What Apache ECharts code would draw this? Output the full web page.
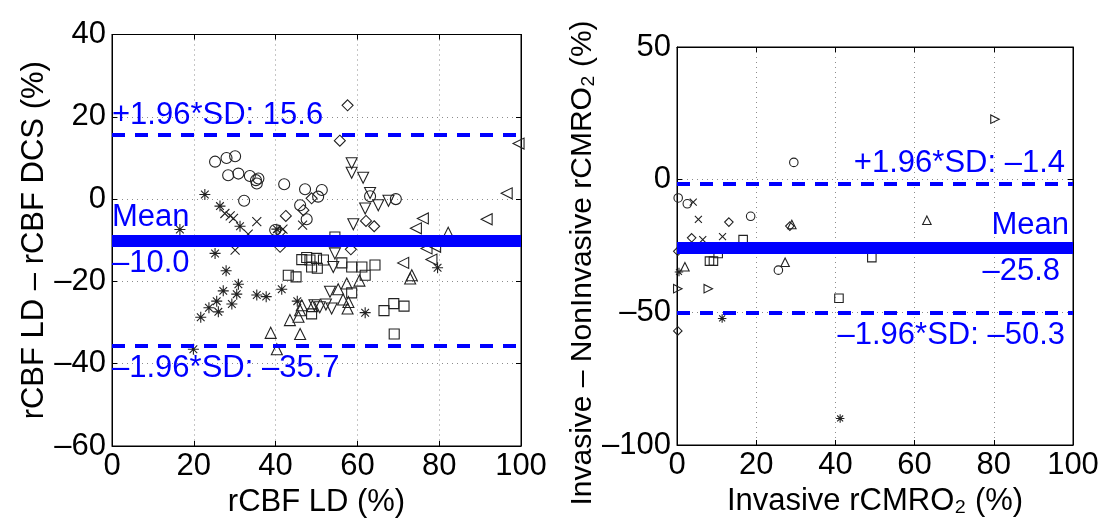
<!DOCTYPE html>
<html><head><meta charset="utf-8">
<script src="https://cdn.jsdelivr.net/npm/echarts@6/dist/echarts.min.js"></script>
<style>html,body{margin:0;padding:0;background:#fff}#c{width:1104px;height:531px}</style>
</head><body><div id="c"></div>
<script>
// ---- Left panel: rCBF LD vs (rCBF LD - rCBF DCS) ----
const leftCircle = [[25.2,9.1],[28.0,10.0],[30.1,10.4],[28.4,5.8],[30.9,6.2],[33.7,5.6],[35.2,4.6],[35.4,3.8],[35.8,5.0],[32.3,-0.4],[42.1,3.6],[47.2,2.4],[46.0,-1.5],[47.6,-4.9],[51.3,2.2],[50.4,0.6],[63.1,0.7],[69.4,0.0],[39.9,-7.5]];
const leftStar = [[22.7,1.1],[26.4,-1.7],[31.3,-6.6],[16.6,-7.4],[25.2,-13.2],[27.9,-17.4],[30.9,-20.7],[27.2,-22.3],[30.5,-23.1],[25.6,-24.8],[23.7,-26.4],[26.0,-27.4],[29.3,-25.5],[21.7,-28.7],[35.4,-23.3],[37.7,-23.7],[41.5,-21.9],[19.9,-36.5],[45.3,-24.8],[61.9,-27.6],[79.6,-16.7],[40.3,-7.3]];
const leftCross = [[27.6,-3.5],[28.9,-4.1],[29.7,-4.7],[35.4,-5.5],[30.1,-12.4],[46.6,-6.3],[41.8,-7.3],[33.3,-8.5]];
const leftDiamond = [[57.6,22.8],[55.7,14.2],[42.5,-4.1],[46.8,-2.7],[48.8,0.2],[62.1,-5.3],[64.1,-6.6],[41.1,-11.6],[58.4,-12.2],[41.1,-8.0]];
const leftTriDown = [[58.6,8.7],[58.6,6.4],[61.4,5.2],[63.1,1.5],[65.1,-1.5],[61.9,-2.3],[67.6,-0.4],[59.0,-6.1],[54.5,-13.2],[54.1,-16.5],[53.3,-22.5],[53.7,-26.6],[49.5,-25.8],[50.8,-26.3],[52.3,-25.6]];
const leftTriLeft = [[99.4,13.5],[96.5,1.4],[91.6,-4.9],[76.0,-4.7],[74.3,-7.1],[76.9,-12.0],[79.0,-11.6],[78.1,-14.7],[71.2,-15.5]];
const leftTriUp = [[82.2,-8.2],[38.8,-32.5],[40.3,-36.5],[46.0,-32.8],[43.5,-29.4],[45.6,-28.6],[46.0,-27.0],[46.4,-25.8],[49.0,-26.0],[60.5,-19.8],[73.3,-18.5],[72.9,-19.3],[57.4,-20.5],[55.3,-21.9],[56.5,-24.4],[57.8,-25.0],[57.6,-26.6]];
const leftSquare = [[54.5,-9.2],[46.4,-14.7],[47.6,-14.2],[48.4,-14.8],[43.1,-18.5],[45.0,-18.9],[48.8,-27.9],[50.0,-14.4],[51.7,-14.8],[48.8,-16.5],[50.2,-16.8],[56.2,-15.5],[58.6,-16.5],[61.1,-16.5],[64.3,-16.0],[61.9,-18.5],[58.6,-22.8],[66.5,-27.1],[68.9,-25.4],[71.4,-26.0],[69.0,-32.8]];
const leftUpper = 15.6, leftMean = -10.0, leftLower = -35.7;

// ---- Right panel: Invasive rCMRO2 vs (Invasive - NonInvasive) ----
const rightCircle = [[29.5,6.5],[0.3,-6.9],[2.6,-9.1],[18.6,-13.8],[25.6,-34.1]];
const rightCross = [[4.1,-8.5],[5.4,-15.0],[6.5,-22.6],[11.5,-21.5]];
const rightDiamond = [[13.1,-16.0],[3.7,-21.9],[0.2,-27.0],[0.2,-57.0],[28.5,-17.5]];
const rightTriUp = [[29.0,-16.9],[2.0,-32.8],[27.3,-31.1],[63.1,-15.3]];
const rightSquare = [[16.7,-22.6],[8.2,-30.7],[9.2,-30.7],[10.4,-27.8],[40.9,-44.7],[49.2,-29.4]];
const rightStar = [[0.5,-34.8],[11.4,-52.3],[41.2,-90.0]];
const rightTriRight = [[0.2,-41.1],[7.9,-41.1],[80.3,22.8]];
const rightUpper = -1.4, rightMean = -25.8, rightLower = -50.3;

const leftXTicks = {min:0, max:100, interval:20};
const leftYTicks = {min:-60, max:40, interval:20};
const rightXTicks = {min:0, max:100, interval:20};
const rightYTicks = {min:-100, max:50, interval:50};

const FONT = 'Liberation Sans, Arial, Helvetica, sans-serif';
const FS = 31;
const BLUE = '#0000ff';
const minus = v => String(v).replace('-', '\u2013');
const fmt1 = v => minus(v.toFixed(1));

const SYM = {
  circle: 'circle',
  square: 'rect',
  diamond: 'path://M5,0L10,5L5,10L0,5Z',
  triUp: 'path://M5,0L10,9L0,9Z',
  triDown: 'path://M0,0L10,0L5,9Z',
  triLeft: 'path://M0,5L9,0L9,10Z',
  triRight: 'path://M9,5L0,0L0,10Z',
  cross: 'path://M0,0L10,10M10,0L0,10',
  star: 'path://M5,0L5,10M0,5L10,5M1.5,1.5L8.5,8.5M8.5,1.5L1.5,8.5'
};

function sc(data, sym, size, idx) {
  return {
    type: 'scatter', xAxisIndex: idx, yAxisIndex: idx, data: data,
    symbol: SYM[sym], symbolSize: size, clip: false, z: 3,
    itemStyle: { color: 'rgba(0,0,0,0)', borderColor: '#222', borderWidth: 1.1, opacity: 1 },
    emphasis: { disabled: true }, silent: true
  };
}

function refLines(idx, upper, mean, lower, side) {
  const start = side === 'left';
  const posTop = start ? 'insideStartTop' : 'insideEndTop';
  const posBot = start ? 'insideStartBottom' : 'insideEndBottom';
  const dx = start ? 0 : 8;
  const lab = (txt, pos, d) => ({ show: true, formatter: txt, position: pos, distance: d,
      color: BLUE, fontSize: FS, fontFamily: FONT, padding: 0 });
  const dashed = { color: BLUE, width: 4, type: [13, 10] };
  const band = { color: BLUE, width: 12, type: 'solid' };
  return {
    type: 'scatter', xAxisIndex: idx, yAxisIndex: idx, data: [], z: 4, silent: true,
    markLine: {
      silent: true, symbol: ['none', 'none'], animation: false,
      data: [
        { yAxis: upper, lineStyle: dashed, label: lab('+1.96*SD: ' + fmt1(upper), posTop, [dx, 4]) },
        { yAxis: lower, lineStyle: dashed, label: lab(minus('-1.96*SD: ') + fmt1(lower), posBot, [dx, 7]) },
        { yAxis: mean, lineStyle: band, label: lab('Mean', posTop, [start ? 0 : 4, 7]) },
        { yAxis: mean, lineStyle: band, label: lab(fmt1(mean), posBot, [start ? 0 : 13, 8]) }
      ]
    }
  };
}

const grids = [
  { left: 112, top: 34.5, width: 409, height: 411.5, show: true, borderColor: '#000', borderWidth: 1,
    backgroundColor: '#fff', containLabel: false, outerBoundsMode: 'none' },
  { left: 677, top: 47, width: 396, height: 398, show: true, borderColor: '#000', borderWidth: 1,
    backgroundColor: '#fff', containLabel: false, outerBoundsMode: 'none' }
];

const tickStyle = { show: true, inside: true, length: 5, lineStyle: { color: '#000' } };
const lineStyleAx = { show: true, onZero: false, lineStyle: { color: '#000', width: 1 } };

function mainX(gi, t, name) {
  return {
    type: 'value', gridIndex: gi, min: t.min, max: t.max, interval: t.interval, position: 'bottom',
    name: name, nameLocation: 'middle', nameGap: 30,
    nameTextStyle: { fontSize: FS, fontFamily: FONT, color: '#000' },
    axisLine: lineStyleAx, axisTick: tickStyle,
    axisLabel: { fontSize: FS, fontFamily: FONT, color: '#000', margin: 5, formatter: minus },
    splitLine: { show: true, lineStyle: { color: '#8c8c8c', width: 1, type: [1, 4] } }
  };
}
function mirrorX(gi, t) {
  return { type: 'value', gridIndex: gi, min: t.min, max: t.max, interval: t.interval, position: 'top',
    axisLine: lineStyleAx, axisTick: tickStyle,
    axisLabel: { show: false }, splitLine: { show: false } };
}
function mainY(gi, t, name, gap, pad, fs) {
  return {
    type: 'value', gridIndex: gi, min: t.min, max: t.max, interval: t.interval, position: 'left',
    name: name, nameLocation: 'middle', nameGap: gap,
    nameTextStyle: { fontSize: fs, fontFamily: FONT, color: '#000', padding: pad },
    axisLine: lineStyleAx, axisTick: tickStyle,
    axisLabel: { fontSize: FS, fontFamily: FONT, color: '#000', margin: 6, formatter: minus },
    splitLine: { show: true, lineStyle: { color: '#8c8c8c', width: 1, type: [1, 4] } }
  };
}
function mirrorY(gi, t) {
  return { type: 'value', gridIndex: gi, min: t.min, max: t.max, interval: t.interval, position: 'right',
    axisLine: lineStyleAx, axisTick: tickStyle,
    axisLabel: { show: false }, splitLine: { show: false } };
}

const LS = 11, RS = 8.5;
const option = {
  animation: false,
  backgroundColor: '#fff',
  textStyle: { fontFamily: FONT },
  grid: grids,
  xAxis: [
    mainX(0, leftXTicks, 'rCBF LD (%)'),
    mainX(1, rightXTicks, 'Invasive rCMRO\u2082 (%)'),
    mirrorX(0, leftXTicks), mirrorX(1, rightXTicks)
  ],
  yAxis: [
    mainY(0, leftYTicks, 'rCBF LD \u2013 rCBF DCS (%)', 59, [0, 0, 0, 0], FS),
    mainY(1, rightYTicks, 'Invasive \u2013 NonInvasive rCMRO\u2082 (%)', 62, [0, 34, 0, 0], 30),
    mirrorY(0, leftYTicks), mirrorY(1, rightYTicks)
  ],
  series: [
    refLines(0, leftUpper, leftMean, leftLower, 'left'),
    refLines(1, rightUpper, rightMean, rightLower, 'right'),
    sc(leftCircle, 'circle', LS, 0),
    sc(leftStar, 'star', LS, 0),
    sc(leftCross, 'cross', 9, 0),
    sc(leftDiamond, 'diamond', LS, 0),
    sc(leftTriDown, 'triDown', LS, 0),
    sc(leftTriLeft, 'triLeft', LS, 0),
    sc(leftTriUp, 'triUp', LS, 0),
    sc(leftSquare, 'square', 10, 0),
    sc(rightCircle, 'circle', RS, 1),
    sc(rightCross, 'cross', 7, 1),
    sc(rightDiamond, 'diamond', RS, 1),
    sc(rightTriUp, 'triUp', RS, 1),
    sc(rightSquare, 'square', RS, 1),
    sc(rightStar, 'star', RS, 1),
    sc(rightTriRight, 'triRight', RS, 1)
  ]
};
const chart = echarts.init(document.getElementById('c'), null, { renderer: 'canvas' });
chart.setOption(option);
</script>
</body></html>
